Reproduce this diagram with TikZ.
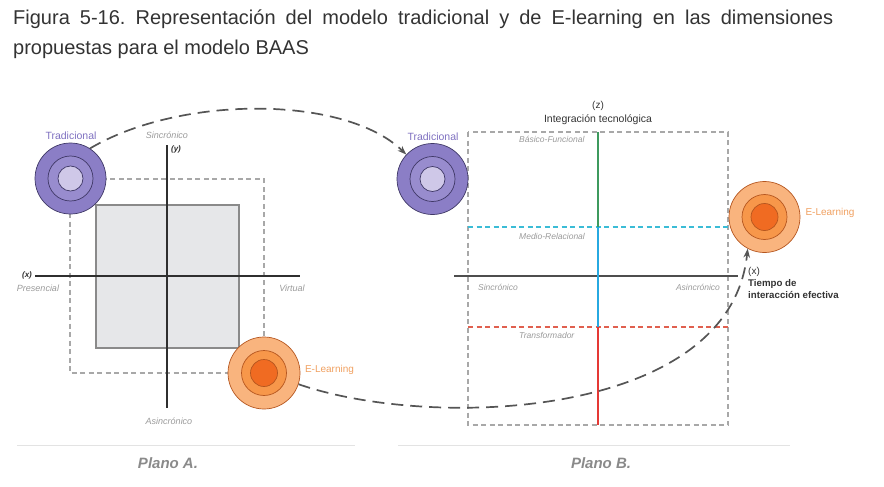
\documentclass[tikz,border=0pt]{standalone}
\usepackage{fontspec}
\setmainfont{Liberation Sans}
\usetikzlibrary{arrows.meta, positioning}
\definecolor{TituloGris}{HTML}{333333}
\definecolor{EjeGris}{HTML}{2F2F2F}
\definecolor{CajaGris}{HTML}{A8A8A8}
\definecolor{PlanoGris}{HTML}{8A8A8A}
\definecolor{PlanoFondo}{HTML}{E6E7E9}
\definecolor{LabelGris}{HTML}{9A9A9A}
\definecolor{FlechaGris}{HTML}{555555}
\definecolor{LineaSep}{HTML}{E3E3E3}
\definecolor{TradExterior}{HTML}{8B7EC6}
\definecolor{TradMedio}{HTML}{988CCE}
\definecolor{TradInterior}{HTML}{CFC8E8}
\definecolor{TradBorde}{HTML}{3F3866}
\definecolor{TradTexto}{HTML}{7E70C0}
\definecolor{ElExterior}{HTML}{F9B47E}
\definecolor{ElMedio}{HTML}{F7974A}
\definecolor{ElInterior}{HTML}{F06B22}
\definecolor{ElBorde}{HTML}{B5561F}
\definecolor{ElTexto}{HTML}{F0A060}
\definecolor{NivelVerde}{HTML}{3E9A5E}
\definecolor{NivelAzul}{HTML}{27A9E1}
\definecolor{NivelRojo}{HTML}{E53935}
\definecolor{CianGuion}{HTML}{3BBCD6}
\definecolor{RojoGuion}{HTML}{E0604F}

\tikzset{
  ring/.style={circle, inner sep=0pt, line width=0.7pt},
  axislabel/.style={font=\fontsize{9}{10}\selectfont\itshape, text=LabelGris, inner sep=0pt},
  levellabel/.style={font=\fontsize{8.5}{10}\selectfont\itshape, text=LabelGris, inner sep=0pt, anchor=west},
  dashbox/.style={draw=CajaGris, dash pattern=on 5pt off 3.5pt, line width=1.1pt},
  flow/.style={-{Stealth[length=9pt,width=6.5pt]}, draw=FlechaGris, line width=1.7pt, dash pattern=on 12pt off 7pt},
  planotitle/.style={font=\fontsize{15}{17}\selectfont\bfseries\itshape, text=PlanoGris},
}

\begin{document}
\frenchspacing
\begin{tikzpicture}[x=1pt, y=-1pt]
\useasboundingbox (0,0) rectangle (884,487);

% Title
\node[anchor=base west, inner sep=0pt, text=TituloGris, font=\fontsize{20}{24}\selectfont] (title1) at (13,25)
  {\makebox[820pt][s]{Figura 5-16. Representación del modelo tradicional y de E-learning en las dimensiones}};
\node[anchor=base west, inner sep=0pt, text=TituloGris, font=\fontsize{20}{24}\selectfont] (title2) at (13,55)
  {propuestas para el modelo BAAS};

% Plano A
\node[draw=PlanoGris, fill=PlanoFondo, line width=2pt, minimum width=143pt, minimum height=143pt, inner sep=0pt] (planoA) at (167.5,276.5) {};
\draw[dashbox] (70,179) rectangle (264,373);
\draw[EjeGris, line width=1.5pt] (35,276) -- (300,276);
\draw[EjeGris, line width=1.5pt] (167,145) -- (167,408);
\node[font=\fontsize{8}{9}\selectfont\bfseries\itshape, text=EjeGris, inner sep=0pt] (xA) at (27,275) {(x)};
\node[font=\fontsize{8}{9}\selectfont\bfseries\itshape, text=EjeGris, inner sep=0pt] (yA) at (176,149) {(y)};
\node[axislabel] (presencial) at (38,288) {Presencial};
\node[axislabel] (virtual) at (292,288) {Virtual};
\node[axislabel] (sincA) at (167,135) {Sincrónico};
\node[axislabel] (asincA) at (169,421) {Asincrónico};

% Tradicional in Plano A
\node[ring, draw=TradBorde, fill=TradExterior, minimum size=71pt] (tradA) at (70.5,178.5) {};
\node[ring, draw=TradBorde, fill=TradMedio, minimum size=45pt] at (tradA) {};
\node[ring, draw=TradBorde, fill=TradInterior, minimum size=25pt] at (tradA) {};
\node[font=\fontsize{10.5}{12}\selectfont, text=TradTexto, inner sep=0pt] (tradAlabel) at (71,136) {Tradicional};

% E-Learning in Plano A
\node[ring, draw=ElBorde, fill=ElExterior, minimum size=72pt] (elA) at (264,373) {};
\node[ring, draw=ElBorde, fill=ElMedio, minimum size=45pt] at (elA) {};
\node[ring, draw=ElBorde, fill=ElInterior, minimum size=27pt] at (elA) {};
\node[font=\fontsize{10}{12}\selectfont, text=ElTexto, inner sep=0pt] (elAlabel) at (329.5,370) {E-Learning};

\draw[LineaSep, line width=0.8pt] (17,445) -- (355,445);
\node[planotitle] (planoAtitle) at (168,463) {Plano A.};

% Plano B
\draw[dashbox] (468,132) rectangle (728,425);
\draw[CianGuion, dash pattern=on 5pt off 3.5pt, line width=1.2pt] (468,227) -- (728,227);
\draw[RojoGuion, dash pattern=on 5pt off 3.5pt, line width=1.2pt] (468,327) -- (728,327);
\draw[EjeGris!85, line width=1.5pt] (454,276) -- (738,276);
\draw[NivelVerde, line width=2.2pt] (598,132) -- (598,227);
\draw[NivelAzul, line width=2.2pt] (598,227) -- (598,327);
\draw[NivelRojo, line width=2.2pt] (598,327) -- (598,425);
\node[font=\fontsize{10}{12}\selectfont, text=TituloGris, inner sep=0pt] (zB) at (598,106) {(z)};
\node[font=\fontsize{10.5}{12}\selectfont, text=TituloGris, inner sep=0pt] (integracion) at (598,120) {Integración tecnológica};
\node[levellabel] (basico) at (519,139) {Básico-Funcional};
\node[levellabel] (medio) at (519,236) {Medio-Relacional};
\node[levellabel] (transf) at (519,335) {Transformador};
\node[axislabel, font=\fontsize{8.5}{10}\selectfont\itshape] (sincB) at (498,287) {Sincrónico};
\node[axislabel, font=\fontsize{8.5}{10}\selectfont\itshape] (asincB) at (698,287) {Asincrónico};
\node[anchor=west, align=left, inner sep=0pt, text=TituloGris, font=\fontsize{10}{12}\selectfont] (xB) at (748,272) {(x)};
\node[anchor=north west, align=left, inner sep=0pt, text=TituloGris, font=\fontsize{9.7}{12.5}\selectfont\bfseries] (tiempo) at (748,279) {Tiempo de\\interacción efectiva};

% Tradicional in Plano B
\node[ring, draw=TradBorde, fill=TradExterior, minimum size=71pt] (tradB) at (432.5,179) {};
\node[ring, draw=TradBorde, fill=TradMedio, minimum size=45pt] at (tradB) {};
\node[ring, draw=TradBorde, fill=TradInterior, minimum size=25pt] at (tradB) {};
\node[font=\fontsize{10.5}{12}\selectfont, text=TradTexto, inner sep=0pt] (tradBlabel) at (433,137) {Tradicional};

% E-Learning in Plano B
\node[ring, draw=ElBorde, fill=ElExterior, minimum size=71pt] (elB) at (764.5,217) {};
\node[ring, draw=ElBorde, fill=ElMedio, minimum size=45pt] at (elB) {};
\node[ring, draw=ElBorde, fill=ElInterior, minimum size=27pt] at (elB) {};
\node[font=\fontsize{10}{12}\selectfont, text=ElTexto, inner sep=0pt] (elBlabel) at (830,213) {E-Learning};

\draw[LineaSep, line width=0.8pt] (398,445) -- (790,445);
\node[planotitle] (planoBtitle) at (601,463) {Plano B.};

% Arrows
\draw[flow] (tradA.57) .. controls (180,95) and (345,95) .. (tradB.137);
\draw[flow] (elA.-18) .. controls (430,430) and (730,420) .. (elB.242);
\end{tikzpicture}
\end{document}
